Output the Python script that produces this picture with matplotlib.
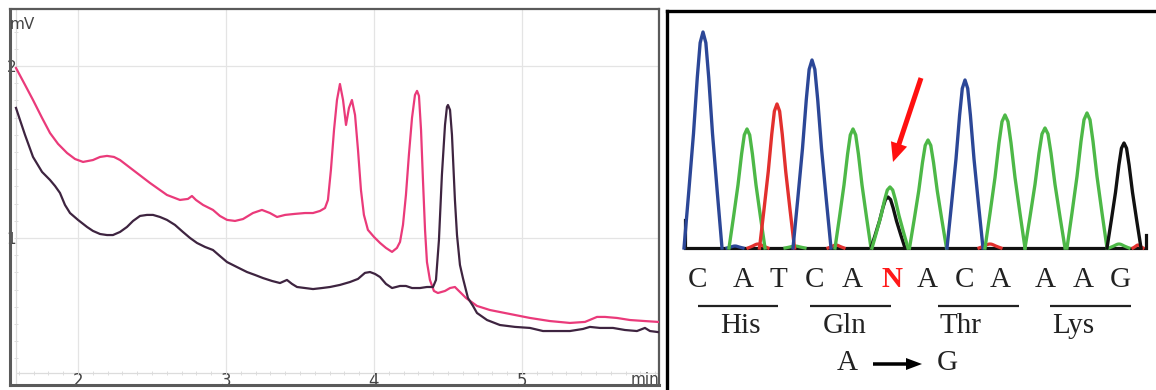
import numpy as np
import matplotlib
matplotlib.use("Agg")
import matplotlib.pyplot as plt
from matplotlib import font_manager

# ---------------- data: HPLC chromatogram (left) ----------------
pink_t = [1.581, 1.588, 1.642, 1.696, 1.757, 1.811, 1.865, 1.926, 1.980, 2.034, 2.101, 2.149,
          2.196, 2.243, 2.284, 2.372, 2.486, 2.601, 2.689, 2.743, 2.770, 2.797, 2.845, 2.912,
          2.959, 3.007, 3.061, 3.115, 3.182, 3.243, 3.297, 3.345, 3.399, 3.466, 3.534, 3.588,
          3.635, 3.669, 3.689, 3.709, 3.730, 3.750, 3.770, 3.791, 3.811, 3.831, 3.851, 3.872,
          3.892, 3.912, 3.932, 3.959, 4.000, 4.041, 4.081, 4.122, 4.155, 4.176, 4.196, 4.216,
          4.236, 4.257, 4.277, 4.291, 4.304, 4.318, 4.331, 4.345, 4.358, 4.378, 4.405, 4.432,
          4.480, 4.514, 4.547, 4.581, 4.622, 4.696, 4.784, 4.919, 5.054, 5.189, 5.324, 5.426,
          5.507, 5.561, 5.642, 5.730, 5.831, 5.919]
pink_mv = [1.988, 1.977, 1.890, 1.802, 1.698, 1.610, 1.547, 1.494, 1.459, 1.442, 1.453, 1.471,
           1.477, 1.471, 1.453, 1.395, 1.320, 1.250, 1.221, 1.227, 1.244, 1.221, 1.192, 1.163,
           1.128, 1.105, 1.099, 1.110, 1.145, 1.163, 1.145, 1.122, 1.134, 1.140, 1.145, 1.145,
           1.157, 1.174, 1.221, 1.395, 1.628, 1.802, 1.895, 1.802, 1.657, 1.756, 1.802, 1.715,
           1.512, 1.279, 1.134, 1.047, 1.006, 0.971, 0.942, 0.919, 0.942, 0.977, 1.076, 1.250,
           1.483, 1.698, 1.831, 1.855, 1.826, 1.628, 1.337, 1.047, 0.860, 0.756, 0.692, 0.680,
           0.692, 0.709, 0.715, 0.686, 0.651, 0.605, 0.581, 0.558, 0.535, 0.517, 0.506, 0.512,
           0.541, 0.541, 0.535, 0.523, 0.517, 0.512]

dark_t = [1.581, 1.608, 1.642, 1.696, 1.757, 1.811, 1.845, 1.878, 1.912, 1.946, 2.000, 2.061,
          2.101, 2.149, 2.196, 2.236, 2.284, 2.331, 2.372, 2.419, 2.466, 2.507, 2.554, 2.601,
          2.655, 2.709, 2.757, 2.804, 2.858, 2.912, 2.959, 3.007, 3.074, 3.142, 3.196, 3.250,
          3.311, 3.365, 3.412, 3.446, 3.480, 3.534, 3.588, 3.649, 3.703, 3.770, 3.838, 3.892,
          3.939, 3.973, 4.007, 4.041, 4.081, 4.122, 4.176, 4.216, 4.257, 4.311, 4.358, 4.399,
          4.419, 4.439, 4.459, 4.480, 4.493, 4.500, 4.514, 4.527, 4.547, 4.561, 4.581, 4.601,
          4.635, 4.669, 4.696, 4.764, 4.851, 4.953, 5.054, 5.142, 5.236, 5.324, 5.412, 5.459,
          5.527, 5.615, 5.696, 5.777, 5.831, 5.865, 5.919]
dark_mv = [1.756, 1.686, 1.599, 1.471, 1.384, 1.337, 1.302, 1.262, 1.192, 1.145, 1.105, 1.064,
           1.041, 1.023, 1.017, 1.017, 1.035, 1.064, 1.099, 1.128, 1.134, 1.134, 1.122, 1.105,
           1.076, 1.035, 1.000, 0.971, 0.948, 0.930, 0.895, 0.860, 0.831, 0.802, 0.785, 0.767,
           0.750, 0.738, 0.756, 0.733, 0.715, 0.709, 0.703, 0.709, 0.715, 0.727, 0.744, 0.762,
           0.797, 0.802, 0.791, 0.773, 0.733, 0.709, 0.721, 0.721, 0.709, 0.709, 0.715, 0.715,
           0.756, 0.988, 1.366, 1.657, 1.762, 1.773, 1.744, 1.599, 1.221, 1.017, 0.843, 0.767,
           0.651, 0.605, 0.564, 0.523, 0.494, 0.483, 0.477, 0.459, 0.459, 0.459, 0.471, 0.483,
           0.477, 0.477, 0.465, 0.459, 0.477, 0.459, 0.453]

x_ticks = [2, 3, 4, 5]
x_tick_labels = ["2", "3", "4", "5"]
y_ticks = [1, 2]
y_tick_labels = ["1", "2"]

# ---------------- data: Sanger trace (right) ----------------
peak_channel = ["C", "A", "T", "C", "A", "G", "A", "A", "C", "A", "A", "A", "G"]
peak_pos = [703, 747, 777, 812, 853, 888, 890, 928, 965, 1005, 1045, 1087, 1124]
peak_height = [216, 119, 144, 188, 119, 51, 61, 108, 168, 133, 120, 135, 105]
peak_halfwidth = [19, 18, 17.5, 19, 18, 17, 18, 18.5, 18, 20, 20, 20, 17]

bump_channel = ["T", "T", "T", "A", "C", "A", "T"]
bump_pos = [758, 836, 990, 795, 735, 1119, 1138]
bump_height = [4, 3, 4, 2, 2, 4, 3]
bump_halfwidth = [10, 8, 11, 10, 8, 10, 5]

base_calls = ["C", "A", "T", "C", "A", "N", "A", "C", "A", "A", "A", "G"]
base_x = [698, 743, 778, 815, 852, 892, 927, 965, 1000, 1045, 1083, 1120]

codon_names = ["His", "Gln", "Thr", "Lys"]
codon_start = [698, 810, 938, 1050]
codon_end = [778, 891, 1019, 1131]
codon_label_x = [740, 845, 960, 1073]

trace_start, trace_end = 685, 1146
start_spike, end_spike = 28, 13

# ---------------- figure ----------------
W, H = 1156, 390
fig = plt.figure(figsize=(W / 100, H / 100), dpi=100)

avail = {f.name for f in font_manager.fontManager.ttflist}
narrow = ["Liberation Sans Narrow"] if "Liberation Sans Narrow" in avail else []
left_font = narrow + ["DejaVu Sans"]

# left panel
L, R, T, B = 10, 659, 9, 385
ax1 = fig.add_axes([L / W, (H - B) / H, (R - L) / W, (B - T) / H])
xmin, xmax = 1.5405, 5.926
ymin, ymax = 0.1453, 2.331
ax1.set_xlim(xmin, xmax)
ax1.set_ylim(ymin, ymax)
inner_x, inner_y = 1.581, 0.215

ax1.vlines(x_ticks, inner_y, ymax, color="#e4e4e4", lw=0.9, zorder=0)
ax1.hlines(y_ticks, inner_x, xmax, color="#e4e4e4", lw=0.9, zorder=0)
ax1.axvline(inner_x, color="#dcdcdc", lw=0.9, zorder=0)
ax1.hlines([inner_y], inner_x, xmax, color="#dcdcdc", lw=0.9, zorder=0)
mx = np.arange(1.6, 5.9, 0.1)
ax1.plot(mx, np.full(mx.size, inner_y), ls="none", marker="|", ms=3, color="#dddddd", mew=0.7)
my = np.arange(0.3, 2.3, 0.1)
ax1.plot(np.full(my.size, inner_x), my, ls="none", marker="_", ms=3, color="#dddddd", mew=0.7)

ax1.plot(pink_t, pink_mv, color="#ea3a7a", lw=1.6, zorder=3)
ax1.plot(dark_t, dark_mv, color="#3e2440", lw=1.6, zorder=4)

for s in ax1.spines.values():
    s.set_color("#5a5a5a")
    s.set_linewidth(1.6)
ax1.spines["left"].set_linewidth(2.2)
ax1.spines["bottom"].set_linewidth(2.2)

ax1.set_xticks(x_ticks, x_tick_labels, family=left_font, fontsize=12, color="#444444")
ax1.set_yticks(y_ticks, y_tick_labels, family=left_font, fontsize=11, color="#444444")
ax1.tick_params(axis="x", length=0, pad=-9.5)
ax1.tick_params(axis="y", length=0, pad=-4.5)
for lab in ax1.get_yticklabels():
    lab.set_horizontalalignment("right")
ax1.text(0.0, 0.947, "mV", transform=ax1.transAxes, ha="left", va="baseline",
         family=left_font, fontsize=11, color="#444444")
ax1.text(1.0, 0.003, "min", transform=ax1.transAxes, ha="right", va="baseline",
         family=left_font, fontsize=11, color="#444444")

# right panel (1 data unit = 1 pixel)
RL, RT = 667, 11
ax2 = fig.add_axes([RL / W, 0, (W - RL) / W, (H - RT) / H])
ax2.set_xlim(RL, W)
ax2.set_ylim(248 - H, 248 - RT)
for k in ["right", "bottom"]:
    ax2.spines[k].set_visible(False)
for k in ["left", "top"]:
    ax2.spines[k].set_color("black")
    ax2.spines[k].set_linewidth(2.4)
ax2.set_xticks([])
ax2.set_yticks([])

colors = {"A": "#4db847", "C": "#2c4797", "G": "#111111", "T": "#e2302e"}
shape_u = np.array([-1, -0.75, -0.5, -0.3, -0.15, 0, 0.15, 0.3, 0.5, 0.75, 1])
shape_f = np.array([0, 0.26, 0.53, 0.79, 0.95, 1, 0.95, 0.79, 0.53, 0.26, 0])

# baseline (black channel)
ax2.plot([trace_start, trace_start, trace_end, trace_end],
         [start_spike, 0, 0, end_spike], color=colors["G"], lw=2.3,
         solid_joinstyle="miter", zorder=2)
for ch, p, h, w in zip(bump_channel, bump_pos, bump_height, bump_halfwidth):
    ax2.plot(p + shape_u * w, shape_f * h, color=colors[ch], lw=2.3, zorder=3)
for ch, p, h, w in zip(peak_channel, peak_pos, peak_height, peak_halfwidth):
    ax2.plot(p + shape_u * w, shape_f * h, color=colors[ch], lw=2.4, zorder=4)

# red arrow pointing to the heterozygous peak
ax2.arrow(921, 170, -28, -84, width=5, head_width=17, head_length=19,
          length_includes_head=True, color="#ff1010", lw=0, zorder=6)

serif = ["Liberation Serif", "DejaVu Serif"]
for b, x in zip(base_calls, base_x):
    if b == "N":
        ax2.text(x, -39, b, ha="center", va="baseline", family=serif, fontsize=21,
                 color="#ff1a1a", fontweight="bold")
    else:
        ax2.text(x, -39, b, ha="center", va="baseline", family=serif, fontsize=21,
                 color="#222222")
ax2.hlines([-58] * len(codon_start), codon_start, codon_end, color="#222222", lw=1.6)
for name, x in zip(codon_names, codon_label_x):
    ax2.text(x, -85, name, ha="center", va="baseline", family=serif, fontsize=21,
             color="#222222")
ax2.text(847, -122, "A", ha="center", va="baseline", family=serif, fontsize=21, color="#222222")
ax2.text(947, -122, "G", ha="center", va="baseline", family=serif, fontsize=21, color="#222222")
ax2.arrow(873, -116, 49, 0, width=3.5, head_width=12, head_length=16,
          length_includes_head=True, color="black", lw=0)

fig.savefig("out.png", dpi=100)
